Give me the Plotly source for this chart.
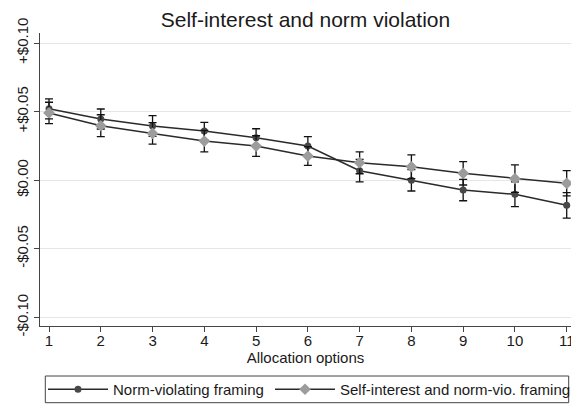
import plotly.graph_objects as go

options = list(range(1, 12))
norm_vals = [0.052, 0.0446, 0.0395, 0.0358, 0.0309, 0.0249, 0.0069, -0.0001, -0.0072, -0.0103, -0.0183]
norm_err = [0.0073, 0.0073, 0.0075, 0.0063, 0.0066, 0.0068, 0.0082, 0.0078, 0.0078, 0.0090, 0.0093]
self_vals = [0.049, 0.0397, 0.0341, 0.0285, 0.0249, 0.0176, 0.0127, 0.0098, 0.0050, 0.0011, -0.0023]
self_err = [0.0078, 0.0080, 0.0078, 0.0078, 0.0075, 0.0068, 0.0080, 0.0087, 0.0085, 0.0100, 0.0092]
y_tickvals = [0.10, 0.05, 0.0, -0.05, -0.10]
y_ticktext = ["+$0.10", "+$0.05", "$0.00", "-$0.05", "-$0.10"]

FONT = "Liberation Sans, Arial, sans-serif"
W, H = 571, 406
ML, MR, MT, MB = 40, 0, 33, 80
PW, PH = W - ML - MR, H - MT - MB


def px_x(p):
    return (p - ML) / PW


def px_y(p):
    return (MT + PH - p) / PH


fig = go.Figure()
fig.add_trace(go.Scatter(
    x=options, y=norm_vals, mode="lines+markers", name="Norm-violating framing",
    line=dict(color="#2a2a2a", width=1.5),
    marker=dict(symbol="circle", size=7, color="#484848"),
    error_y=dict(type="data", array=norm_err, visible=True, color="#111111", thickness=1.3, width=4),
    cliponaxis=False, legend="legend",
))
fig.add_trace(go.Scatter(
    x=options, y=self_vals, mode="lines+markers", name="Self-interest and norm-vio. framing",
    line=dict(color="#2a2a2a", width=1.5),
    marker=dict(symbol="diamond", size=9, color="#9c9c9c"),
    error_y=dict(type="data", array=self_err, visible=True, color="#111111", thickness=1.3, width=4),
    cliponaxis=False, legend="legend2",
))

# legend frame
fig.add_shape(type="rect", xref="paper", yref="paper",
              x0=px_x(45.3), x1=px_x(568.7), y0=px_y(402.7), y1=px_y(376),
              line=dict(color="#444444", width=1), fillcolor="rgba(0,0,0,0)", layer="above")

leg_common = dict(orientation="h", xanchor="left", yanchor="top", y=px_y(373),
                  borderwidth=0, font=dict(size=15), bgcolor="rgba(0,0,0,0)", itemwidth=60)

fig.update_layout(
    width=W, height=H,
    margin=dict(l=ML, r=MR, t=MT, b=MB, autoexpand=False),
    paper_bgcolor="white", plot_bgcolor="white",
    font=dict(family=FONT, size=15, color="#1a1a1a"),
    title=dict(text="Self-interest and norm violation", x=0.5, xref="paper",
               y=1 - 20 / H, yanchor="middle", yref="container",
               font=dict(size=21, color="#1a1a1a")),
    showlegend=True,
    legend=dict(x=px_x(43), **leg_common),
    legend2=dict(x=px_x(270), **leg_common),
)
fig.update_xaxes(range=[0.826, 11.083], tickvals=options, ticks="outside", ticklen=5,
                 tickcolor="#444444", showline=True, linecolor="#444444", linewidth=1,
                 showgrid=False, zeroline=False, automargin=False, ticklabelstandoff=-4,
                 ticklabeloverflow="allow",
                 title=dict(text="Allocation options", standoff=2, font=dict(size=15)))
fig.update_yaxes(range=[-0.1063, 0.1073], tickvals=y_tickvals, ticktext=y_ticktext,
                 tickangle=-90, ticks="outside", ticklen=5, tickcolor="#444444",
                 showline=True, linecolor="#444444", linewidth=1, automargin=False,
                 showgrid=True, gridcolor="#e6e6e6", gridwidth=1, zeroline=False)

fig.write_html("out.html", config={"displayModeBar": False},
               post_script="document.body.style.margin='0';")
